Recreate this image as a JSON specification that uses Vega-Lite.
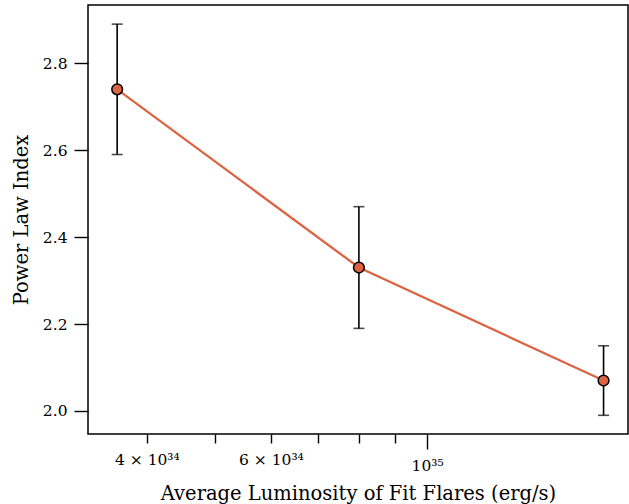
{
  "$schema": "https://vega.github.io/schema/vega-lite/v6.json",
  "autosize": {"type": "none"},
  "padding": {"left": 88, "top": 5, "right": 1, "bottom": 70},
  "width": 540,
  "height": 429,
  "background": "white",
  "config": {
    "view": {"stroke": "black", "strokeWidth": 1.5},
    "font": "DejaVu Serif",
    "axis": {"domain": false, "grid": false, "tickColor": "black", "tickWidth": 1.4, "labelColor": "black", "titleColor": "black", "labelFont": "DejaVu Serif", "titleFont": "DejaVu Serif", "titleFontWeight": "normal"}
  },
  "data": {
    "values": [
      {"lum": 3.63e34, "index": 2.74, "lo": 2.59, "hi": 2.89},
      {"lum": 8.0e34, "index": 2.33, "lo": 2.19, "hi": 2.47},
      {"lum": 1.78e35, "index": 2.07, "lo": 1.99, "hi": 2.15}
    ]
  },
  "encoding": {
    "x": {
      "field": "lum", "type": "quantitative",
      "scale": {"type": "log", "domain": [3.30e34, 1.928e35], "nice": false},
      "axis": {
        "title": "Average Luminosity of Fit Flares (erg/s)",
        "titleFontSize": 19.5, "titlePadding": 11,
        "values": [4e34, 5e34, 6e34, 7e34, 8e34, 9e34, 1e35],
        "labelExpr": "abs(datum.value - 4e34) < 1e33 ? '4 × 10³⁴' : abs(datum.value - 6e34) < 1e33 ? '6 × 10³⁴' : abs(datum.value - 1e35) < 1e33 ? '10³⁵' : ''",
        "tickSize": {"condition": {"test": "abs(datum.value - 1e35) < 1e33", "value": 15}, "value": 9},
        "labelPadding": 9,
        "labelFontSize": 15.5,
        "labelOverlap": false,
        "labelFlush": false
      }
    },
    "y": {
      "type": "quantitative",
      "scale": {"domain": [1.947, 2.934], "nice": false, "zero": false},
      "axis": {
        "title": "Power Law Index",
        "titleFontSize": 19.5, "titlePadding": 11,
        "values": [2.0, 2.2, 2.4, 2.6, 2.8],
        "format": ".1f",
        "tickSize": 14,
        "labelPadding": 7,
        "labelFontSize": 15.5
      }
    }
  },
  "layer": [
    {
      "mark": {"type": "line", "color": "#dc6443", "strokeWidth": 2.3},
      "encoding": {"y": {"field": "index", "type": "quantitative"}}
    },
    {
      "mark": {"type": "rule", "color": "black", "strokeWidth": 1.6},
      "encoding": {"y": {"field": "lo", "type": "quantitative"}, "y2": {"field": "hi"}}
    },
    {
      "mark": {"type": "tick", "orient": "horizontal", "color": "black", "size": 11, "thickness": 1.6},
      "encoding": {"y": {"field": "lo", "type": "quantitative"}}
    },
    {
      "mark": {"type": "tick", "orient": "horizontal", "color": "black", "size": 11, "thickness": 1.6},
      "encoding": {"y": {"field": "hi", "type": "quantitative"}}
    },
    {
      "mark": {"type": "point", "shape": "circle", "filled": true, "fill": "#dc6443", "stroke": "black", "strokeWidth": 1.5, "size": 115, "opacity": 1},
      "encoding": {"y": {"field": "index", "type": "quantitative"}}
    }
  ]
}
